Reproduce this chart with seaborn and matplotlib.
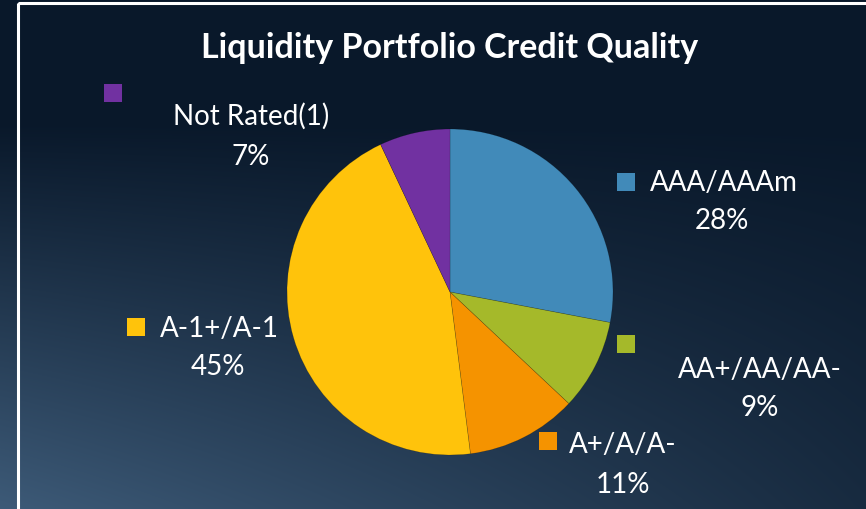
import numpy as np
import matplotlib
matplotlib.use("Agg")
import matplotlib.pyplot as plt
import seaborn as sns
from matplotlib.patches import Rectangle

categories = ["AAA/AAAm", "AA+/AA/AA-", "A+/A/A-", "A-1+/A-1", "Not Rated(1)"]
values = [28, 9, 11, 45, 7]
pct_labels = ["28%", "9%", "11%", "45%", "7%"]
colors = ["#418AB9", "#A5B92A", "#F59300", "#FFC30B", "#7131A1"]
title = "Liquidity Portfolio Credit Quality"

sns.set_theme(style="white")
plt.rcParams['font.family'] = ['Lato', 'DejaVu Sans']

W, H = 866, 510
fig = plt.figure(figsize=(W / 100, H / 100), dpi=100)

# background gradient
bg = fig.add_axes([0, 0, 1, 1], zorder=0)
yy, xx = np.mgrid[0:H, 0:W]
u = xx / W
v = yy / H
L = np.clip(v * 1.25 - 0.3, 0, 1) * (1 - 0.72 * u)
dark = np.array([9, 24, 42]) / 255
light = np.array([64, 94, 124]) / 255
img = dark[None, None, :] + L[..., None] * (light - dark)[None, None, :]
bg.imshow(img, aspect="auto", extent=[0, W, H, 0])
bg.set_xlim(0, W)
bg.set_ylim(H, 0)
bg.axis("off")
bg.add_patch(Rectangle((18, 4), W + 20, H + 20, fill=False, edgecolor="white", linewidth=2.2))

# pie
cx, cy, r = 450, 293, 163
ax = fig.add_axes([(cx - r) / W, (H - cy - r) / H, 2 * r / W, 2 * r / H], zorder=1)
ax.pie(values, colors=colors, startangle=90, counterclock=False,
       wedgeprops=dict(linewidth=0.4, edgecolor=(0, 0, 0, 0.25)))
ax.set_xlim(-1, 1)
ax.set_ylim(-1, 1)
ax.axis("off")

def ftext(x, y, s, **kw):
    fig.text(x / W, 1 - y / H, s, color="white", **kw)

ftext(450, 48, title, fontsize=24.5, fontweight="bold", ha="center", va="center")

# labels: (marker x, marker y, name x, name y, name ha, pct x, pct y)
label_pos = [
    (626, 183, 650, 183, "left", 722, 221),
    (626, 345, 760, 370, "center", 760, 408),
    (548, 442, 623, 445, "center", 623, 485),
    (136, 328, 160, 329, "left", 218, 367),
    (113, 94, 251, 116, "center", 251, 157),
]
for i, (mx, my, nx, ny, nha, px, py) in enumerate(label_pos):
    s = 18
    bg.add_patch(Rectangle((mx - s / 2, my - s / 2), s, s, facecolor=colors[i], edgecolor="none"))
    ftext(nx, ny, categories[i], fontsize=20, ha=nha, va="center")
    ftext(px, py, pct_labels[i], fontsize=20, ha="center", va="center")

fig.savefig("out.png", dpi=100)
